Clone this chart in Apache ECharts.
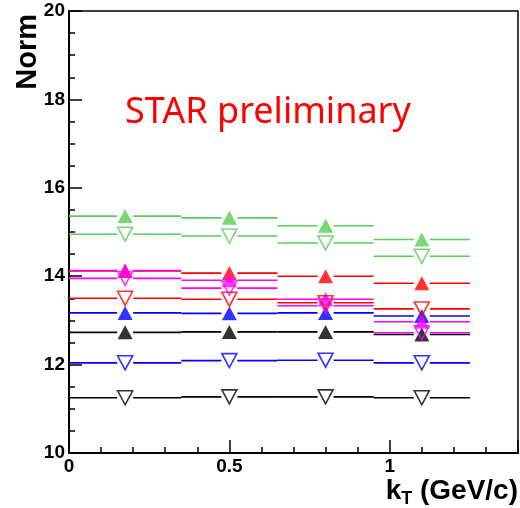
<!DOCTYPE html>
<html>
<head>
<meta charset="utf-8">
<script src="https://cdn.jsdelivr.net/npm/echarts@6/dist/echarts.min.js"></script>
<style>
  html, body { margin: 0; padding: 0; background: #fff; }
  #chart { width: 520px; height: 508px; }
</style>
</head>
<body>
<div id="chart"></div>
<script>
// kT bins
var kT = [0.175, 0.5, 0.8, 1.1];
var binLow = [0, 0.35, 0.65, 0.95];
var binHigh = [0.35, 0.65, 0.95, 1.25];

// Norm values per series
var greenFilled = [15.36, 15.32, 15.14, 14.83];
var greenOpen = [14.95, 14.91, 14.75, 14.45];
var blackFilled = [12.73, 12.74, 12.74, 12.68];
var blackOpen = [11.25, 11.27, 11.27, 11.25];
var blueFilled = [13.17, 13.16, 13.17, 13.10];
var blueOpen = [12.04, 12.09, 12.10, 12.04];
var redFilled = [14.12, 14.07, 14.00, 13.84];
var magentaFilled = [14.13, 13.91, 13.48, 12.97];
var redOpen = [13.50, 13.48, 13.40, 13.26];
var magentaOpen = [13.95, 13.73, 13.33, 12.72];

var yTicks = [10, 12, 14, 16, 18, 20];
var xTickLabels = [0, 0.5, 1];

var chartDom = document.getElementById("chart");
var myChart = echarts.init(chartDom, null, { renderer: "canvas" });

var GAP = 8;

function makeSeries(values, color, filled) {
  var data = values.map(function (v, i) {
    return [kT[i], v, binLow[i], binHigh[i]];
  });
  var bars = {
    type: "custom",
    data: data,
    silent: true,
    renderItem: function (params, api) {
      var y = api.value(1);
      var l = api.coord([api.value(2), y]);
      var r = api.coord([api.value(3), y]);
      var c = api.coord([api.value(0), y]);
      return {
        type: "group",
        children: [
          {
            type: "line",
            shape: { x1: l[0], y1: l[1], x2: c[0] - GAP, y2: c[1] },
            style: { stroke: color, lineWidth: 1.6 },
          },
          {
            type: "line",
            shape: { x1: c[0] + GAP, y1: c[1], x2: r[0], y2: r[1] },
            style: { stroke: color, lineWidth: 1.6 },
          },
        ],
      };
    },
  };
  var marks = {
    type: "scatter",
    data: data.map(function (d) { return [d[0], d[1]]; }),
    symbol: "triangle",
    symbolSize: [15, 14],
    symbolRotate: filled ? 0 : 180,
    silent: true,
    itemStyle: filled
      ? { color: color }
      : { color: "rgba(0,0,0,0)", borderColor: color, borderWidth: 1.6 },
  };
  return [bars, marks];
}

var series = [].concat(
  makeSeries(greenFilled, "#58cc58", true),
  makeSeries(greenOpen, "#58cc58", false),
  makeSeries(blackFilled, "#000000", true),
  makeSeries(blackOpen, "#000000", false),
  makeSeries(blueFilled, "#0000ff", true),
  makeSeries(blueOpen, "#0000ff", false),
  makeSeries(redFilled, "#ff0000", true),
  makeSeries(magentaFilled, "#ff00ff", true),
  makeSeries(redOpen, "#ff0000", false),
  makeSeries(magentaOpen, "#ff00ff", false)
);

var option = {
  animation: false,
  backgroundColor: "#fff",
  title: {
    text: "STAR preliminary",
    left: 120,
    top: 90,
    textStyle: {
      color: "#ff0000",
      fontFamily: "Noto Sans",
      fontWeight: "normal",
      fontSize: 36,
    },
  },
  graphic: [
    {
      type: "text",
      x: 28,
      y: 14,
      rotation: Math.PI / 2,
      style: {
        text: "Norm",
        align: "right",
        verticalAlign: "middle",
        font: "bold 29px 'Liberation Sans', Arial, sans-serif",
        fill: "#000",
      },
    },
    {
      type: "text",
      right: 2,
      top: 477,
      style: {
        text: "k{sub|T} (GeV/c)",
        font: "bold 28px 'Liberation Sans', Arial, sans-serif",
        fill: "#000",
        rich: {
          sub: {
            font: "bold 18px 'Liberation Sans', Arial, sans-serif",
            verticalAlign: "bottom",
            padding: [16, 0, 0, 0],
          },
        },
      },
    },
  ],
  grid: {
    left: 69,
    right: 2,
    top: 11,
    bottom: 55,
    show: true,
    borderColor: "#000",
    borderWidth: 1.5,
    outerBoundsMode: "none",
  },
  xAxis: {
    type: "value",
    min: 0,
    max: 1.4,
    interval: 0.5,
    axisLine: { onZero: false, lineStyle: { color: "#000", width: 2 } },
    axisTick: { inside: true, length: 13, lineStyle: { color: "#000", width: 1.5 } },
    minorTick: { show: true, splitNumber: 5, length: 6, lineStyle: { color: "#000", width: 1.5 } },
    splitLine: { show: false },
    axisLabel: {
      margin: 4,
      color: "#000",
      fontFamily: "Liberation Sans",
      fontWeight: "bold",
      fontSize: 19,
      formatter: function (v) {
        return xTickLabels.indexOf(Math.round(v * 100) / 100) >= 0 ? String(v) : "";
      },
    },
  },
  yAxis: {
    type: "value",
    min: 10,
    max: 20,
    interval: 2,
    axisLine: { onZero: false, lineStyle: { color: "#000", width: 2 } },
    axisTick: { inside: true, length: 13, lineStyle: { color: "#000", width: 1.5 } },
    minorTick: { show: true, splitNumber: 4, length: 6, lineStyle: { color: "#000", width: 1.5 } },
    splitLine: { show: false },
    axisLabel: {
      margin: 4,
      color: "#000",
      fontFamily: "Liberation Sans",
      fontWeight: "bold",
      fontSize: 19,
      formatter: function (v) {
        return yTicks.indexOf(v) >= 0 ? String(v) : "";
      },
    },
  },
  series: series,
};

option && myChart.setOption(option);
</script>
</body>
</html>
